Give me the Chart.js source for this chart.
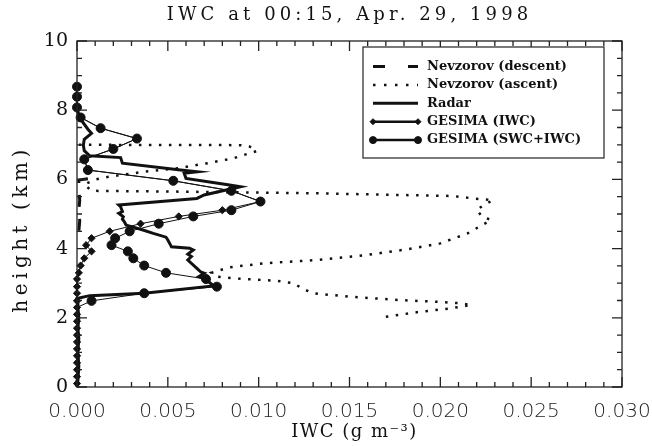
<!DOCTYPE html>
<html><head><meta charset="utf-8">
<script src="https://cdn.jsdelivr.net/npm/chart.js@4.4.1/dist/chart.umd.min.js"></script>
<style>html,body{margin:0;padding:0;background:#fff;}canvas{display:block;}</style>
</head><body>
<canvas id="c" width="652" height="446"></canvas>
<script>
// ---------- text ----------
const titleText = 'IWC at 00:15, Apr. 29, 1998';
const xTitleText = 'IWC (g m⁻³)';
const yTitleText = 'height (km)';
const seriesLabels = ['Nevzorov (descent)', 'Nevzorov (ascent)', 'Radar', 'GESIMA (IWC)', 'GESIMA (SWC+IWC)'];

// ---------- axis ranges / ticks ----------
const xRange = [0, 0.030];
const xTickStep = 0.005;
const xMinorStep = 0.001;
const yRange = [0, 10];
const yTickStep = 2;
const yMinorStep = 0.5;

// ---------- Nevzorov (descent) ----------
const descentHeight = [6.02, 5.98, 5.70, 5.40, 5.10, 4.80, 4.50, 4.20];
const descentIWC    = [0.0006, 0.0001, 0.0001, 0.00015, 0.0001, 0.00015, 0.0001, 0.0001];

// ---------- Nevzorov (ascent) ----------
const ascentHeight = [2.03, 2.16, 2.27, 2.37, 2.42, 2.47, 2.51, 2.61, 2.71, 2.82, 3.00, 3.07, 3.14, 3.19, 3.30,
  3.46, 3.58, 3.67, 3.82, 3.98, 4.15, 4.44, 4.83, 4.92, 5.12, 5.26, 5.40, 5.45, 5.52, 5.60, 5.65, 5.67,
  5.85, 6.00, 6.08, 6.22, 6.32, 6.46, 6.61, 6.82, 6.95, 6.99, 7.00];
const ascentIWC = [0.0170, 0.0187, 0.0205, 0.0217, 0.0211, 0.0196, 0.0178, 0.0150, 0.0130, 0.0125, 0.0119, 0.0110, 0.0086, 0.0077, 0.0074,
  0.0084, 0.0104, 0.0132, 0.0160, 0.0182, 0.0200, 0.0215, 0.0228, 0.0223, 0.0220, 0.0224, 0.0229, 0.0218, 0.0207, 0.0130, 0.0050, 0.0008,
  0.0004, 0.0010, 0.0018, 0.0037, 0.0055, 0.0071, 0.0086, 0.0099, 0.0095, 0.0090, 0.0000];

// ---------- Radar ----------
const radarHeight = [8.00, 7.74, 7.45, 7.33, 7.16, 6.99, 6.83, 6.68, 6.63, 6.47, 6.27, 6.22, 6.18, 6.03, 5.84, 5.79,
  5.55, 5.45, 5.26, 5.21, 5.07, 5.02, 4.92, 4.85, 4.78, 4.68, 4.56, 4.44, 4.33, 4.25, 4.15, 4.05, 4.01, 3.96,
  3.84, 3.77, 3.67, 3.43, 3.33, 3.29, 3.19, 3.11, 2.92, 2.71, 2.64, 2.56, 2.30, 2.00, 1.70, 1.40, 1.00, 0.60, 0.20, 0.00];
const radarIWC = [0.0000, 0.0002, 0.0006, 0.0008, 0.0004, 0.00035, 0.0004, 0.0007, 0.0024, 0.0025, 0.0057, 0.0066, 0.0059, 0.0060, 0.0084, 0.0090,
  0.0070, 0.0066, 0.0023, 0.0024, 0.0025, 0.0023, 0.00255, 0.0025, 0.0026, 0.0027, 0.0035, 0.0042, 0.0049, 0.0050, 0.0051, 0.0052, 0.0062, 0.0064,
  0.0061, 0.0063, 0.0061, 0.0066, 0.0068, 0.0070, 0.0067, 0.0071, 0.0075, 0.0037, 0.0007, 0.0000, 0.00005, 0.0001, 0.00005, 0.0001, 0.00005, 0.0001, 0.00005, 0.0000];

// ---------- GESIMA ----------
const gesimaHeight = [8.68, 8.39, 8.08, 7.79, 7.48, 7.18, 6.88, 6.58, 6.27, 5.96, 5.67, 5.36, 5.11, 4.93, 4.72, 4.50,
  4.30, 4.10, 3.92, 3.72, 3.51, 3.30, 3.12, 2.90, 2.71, 2.49, 2.30];
const gesimaTotal = [0.0000, 0.0000, 0.0000, 0.0002, 0.0013, 0.0033, 0.0020, 0.0004, 0.0006, 0.0053, 0.0085, 0.0101, 0.0085, 0.0064, 0.0045, 0.0029,
  0.0021, 0.0019, 0.0028, 0.0031, 0.0037, 0.0049, 0.0071, 0.0077, 0.0037, 0.0008, 0.0000];
const gesimaIceHeight = [8.68, 8.39, 8.08, 7.79, 7.48, 7.18, 6.88, 6.58, 6.27, 5.96, 5.67, 5.36, 5.11, 4.93, 4.72, 4.50,
  4.30, 4.10, 3.92, 3.72, 3.51, 3.30, 3.12, 2.90, 2.71, 2.49, 2.30, 2.10, 1.90, 1.70, 1.50, 1.30, 1.10, 0.90, 0.70, 0.50, 0.30, 0.10];
const gesimaIce = [0.0000, 0.0000, 0.0000, 0.0002, 0.0013, 0.0033, 0.0020, 0.0004, 0.0006, 0.0053, 0.0085, 0.0101, 0.0080, 0.0056, 0.0035, 0.0018,
  0.0008, 0.0005, 0.0008, 0.0004, 0.0002, 0.0001, 0.0000, 0.0000, 0.0000, 0.0000, 0.0000, 0.0000, 0.0000, 0.0000, 0.0000, 0.0000, 0.0000, 0.0000, 0.0000, 0.0000, 0.0000, 0.0000];

// ---------- build ----------
const pts = (xs, ys) => xs.map((v, i) => ({x: v, y: ys[i]}));
const INK = '#111';

const datasets = [
  {label: seriesLabels[0], data: pts(descentIWC, descentHeight), showLine: true, borderColor: INK, borderWidth: 3,
   borderDash: [12, 12], pointRadius: 0, legendDash: [12, 23], legendWidth: 3},
  {label: seriesLabels[1], data: pts(ascentIWC, ascentHeight), showLine: true, borderColor: INK, borderWidth: 2.5,
   borderDash: [2.5, 7.5], pointRadius: 0, legendDash: [2.5, 8.5], legendWidth: 2.5},
  {label: seriesLabels[2], data: pts(radarIWC, radarHeight), showLine: true, borderColor: INK, borderWidth: 3,
   pointRadius: 0, borderJoinStyle: 'miter', legendWidth: 3},
  {label: seriesLabels[3], data: pts(gesimaIce, gesimaIceHeight), showLine: true, borderColor: INK, borderWidth: 1,
   pointStyle: 'rectRot', pointRadius: 3.6, pointBackgroundColor: INK, pointBorderColor: INK, pointBorderWidth: 1, legendWidth: 2.5, legendRadius: 3},
  {label: seriesLabels[4], data: pts(gesimaTotal, gesimaHeight), showLine: true, borderColor: INK, borderWidth: 1,
   pointStyle: 'circle', pointRadius: gesimaHeight.map((h, i) => i === gesimaHeight.length - 1 ? 0 : 4.5),
   pointBackgroundColor: INK, pointBorderColor: INK, pointBorderWidth: 1, legendWidth: 2.5, legendRadius: 3.5}
];
datasets.forEach(d => { d.clip = 8; d.tension = 0; d.fill = false; });

function drawFrame(chart) {
  const ctx = chart.ctx;
  const a = chart.chartArea;
  const sx = chart.scales.x, sy = chart.scales.y;
  ctx.save();
  ctx.setTransform(1, 0, 0, 1, 0, 0);
  ctx.globalAlpha = 1;
  ctx.globalCompositeOperation = 'source-over';
  ctx.setLineDash([]);
  ctx.strokeStyle = '#222';
  ctx.lineWidth = 1.3;
  ctx.strokeRect(a.left, a.top, a.right - a.left, a.bottom - a.top);
  const segs = [];
  const nx = Math.round((xRange[1] - xRange[0]) / xMinorStep);
  const xEvery = Math.round(xTickStep / xMinorStep);
  for (let i = 0; i <= nx; i++) {
    const px = sx.getPixelForValue(xRange[0] + i * xMinorStep);
    const len = i % xEvery === 0 ? 10 : 5;
    segs.push([px, a.bottom, px, a.bottom - len], [px, a.top, px, a.top + len]);
  }
  const ny = Math.round((yRange[1] - yRange[0]) / yMinorStep);
  const yEvery = Math.round(yTickStep / yMinorStep);
  for (let i = 0; i <= ny; i++) {
    const py = sy.getPixelForValue(yRange[0] + i * yMinorStep);
    const len = i % yEvery === 0 ? 10 : 5;
    segs.push([a.left, py, a.left + len, py], [a.right, py, a.right - len, py]);
  }
  ctx.beginPath();
  segs.forEach(s => { ctx.moveTo(s[0], s[1]); ctx.lineTo(s[2], s[3]); });
  ctx.stroke();
  ctx.restore();
}

function drawLegend(chart) {
  const ctx = chart.ctx;
  const L = {left: 363, top: 47, right: 604, bottom: 158, x0: 373, x1: 418, tx: 427, y0: 66.5, dy: 18.4};
  ctx.save();
  ctx.setTransform(1, 0, 0, 1, 0, 0);
  ctx.setLineDash([]);
  ctx.fillStyle = '#fff';
  ctx.fillRect(L.left, L.top, L.right - L.left, L.bottom - L.top);
  ctx.strokeStyle = '#222';
  ctx.lineWidth = 1.2;
  ctx.strokeRect(L.left, L.top, L.right - L.left, L.bottom - L.top);
  chart.data.datasets.forEach((d, i) => {
    const yy = L.y0 + i * L.dy;
    ctx.save();
    ctx.strokeStyle = INK;
    ctx.lineWidth = d.legendWidth;
    ctx.setLineDash(d.legendDash || []);
    ctx.beginPath(); ctx.moveTo(L.x0, yy); ctx.lineTo(L.x1, yy); ctx.stroke();
    ctx.setLineDash([]);
    if (d.legendRadius) {
      ctx.fillStyle = INK; ctx.strokeStyle = INK; ctx.lineWidth = 1;
      const opt = {pointStyle: d.pointStyle, radius: d.legendRadius, rotation: 0, borderWidth: 1};
      Chart.helpers.drawPoint(ctx, opt, L.x0, yy);
      Chart.helpers.drawPoint(ctx, opt, L.x1, yy);
    }
    ctx.restore();
    ctx.fillStyle = INK;
    ctx.font = 'bold 13px "DejaVu Serif"';
    ctx.textBaseline = 'middle';
    ctx.textAlign = 'left';
    ctx.fillText(d.label, L.tx, yy);
  });
  ctx.restore();
}

const decorPlugin = {
  id: 'decor',
  afterDraw(chart) {
    drawFrame(chart);
    drawLegend(chart);
  }
};

// wider letter spacing for title / axis titles (wraps the library's own draw methods)
const spacingPlugin = {
  id: 'spacing',
  afterLayout(chart) {
    const ctx = chart.ctx;
    const wrap = (obj, method, spacing, offsetFn) => {
      if (!obj || obj['__w' + method]) return;
      const orig = obj[method];
      obj[method] = function (...args) {
        const [dx, dy] = offsetFn();
        ctx.save();
        try { ctx.letterSpacing = spacing; } catch (e) {}
        ctx.translate(dx, dy);
        const r = orig.apply(this, args);
        ctx.restore();
        return r;
      };
      obj['__w' + method] = true;
    };
    const tb = chart.titleBlock;
    wrap(tb, 'draw', '4.1px', () => [
      (chart.chartArea.left + chart.chartArea.right) / 2 - (tb.left + tb.right) / 2, 0]);
    wrap(chart.scales.y, 'drawTitle', '4.5px', () => [0, 15]);
    wrap(chart.scales.x, 'drawTitle', '1.5px', () => [5, 0]);
  }
};

new Chart(document.getElementById('c'), {
  type: 'scatter',
  data: {datasets},
  options: {
    responsive: false,
    animation: false,
    devicePixelRatio: 1,
    layout: {padding: {top: 0, right: 30, bottom: 0, left: 0}},
    plugins: {
      legend: {display: false},
      tooltip: {enabled: false},
      title: {
        display: true, text: titleText, color: INK,
        font: {family: 'DejaVu Serif', size: 18, weight: 'normal', lineHeight: 1.2},
        padding: {top: 5, bottom: 14.4}
      }
    },
    scales: {
      x: {
        type: 'linear', min: xRange[0], max: xRange[1],
        grid: {display: false, drawTicks: false},
        border: {display: false},
        ticks: {
          stepSize: xTickStep, color: '#222', padding: 13, maxRotation: 0, autoSkip: false,
          font: {family: 'DejaVu Sans', size: 20, weight: '200'},
          callback: v => Number(v).toFixed(3)
        },
        title: {display: true, text: xTitleText, color: INK, font: {family: 'DejaVu Serif', size: 18}, padding: {top: 0, bottom: 3}},
        afterFit(s) { s.height = 59; s.paddingLeft = 0; s.paddingRight = 0; }
      },
      y: {
        type: 'linear', min: yRange[0], max: yRange[1],
        grid: {display: false, drawTicks: false},
        border: {display: false},
        ticks: {
          stepSize: yTickStep, color: INK, padding: 9,
          font: {family: 'DejaVu Serif', size: 19},
          callback: v => String(v)
        },
        title: {display: true, text: yTitleText, color: INK, font: {family: 'DejaVu Serif', size: 20}, padding: {top: 10, bottom: 0}},
        afterFit(s) { s.width = 77; s.paddingTop = 0; s.paddingBottom = 0; }
      }
    }
  },
  plugins: [spacingPlugin, decorPlugin]
});
</script>
</body></html>
